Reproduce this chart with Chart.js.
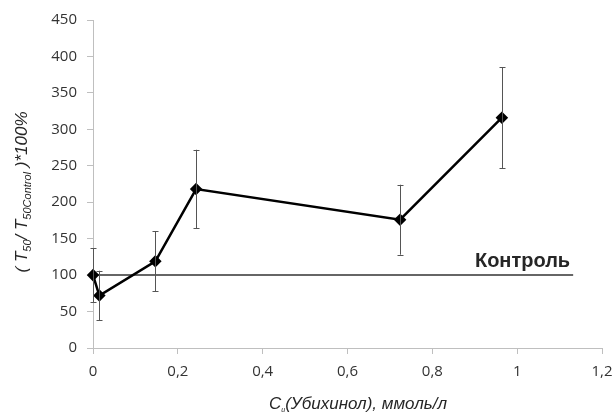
<!DOCTYPE html>
<html>
<head>
<meta charset="utf-8">
<script src="https://cdn.jsdelivr.net/npm/chart.js@4.4.1/dist/chart.umd.min.js"></script>
<style>
  html, body { margin: 0; padding: 0; background: #ffffff; }
  #wrap { width: 616px; height: 412px; }
</style>
</head>
<body>
<div id="wrap"><canvas id="grafico"></canvas></div>
<script>
// concentracion (mmol/l) y T50 relativo al control (%)
var concentraciones = [0, 0.015, 0.147, 0.243, 0.724, 0.964];
var valores = [100, 72, 119, 218, 176, 316];
var errores = [37, 34, 41, 54, 48, 69];

// linea de control
var controlX = [0, 1.132];
var controlY = [100, 100];
var etiquetaControl = "Контроль";

var ticksY = [0, 50, 100, 150, 200, 250, 300, 350, 400, 450];
var ticksX = [0, 0.2, 0.4, 0.6, 0.8, 1, 1.2];

var FUENTE = "'Open Sans', 'DejaVu Sans', sans-serif";
var FUENTE_TIT = "'Liberation Sans', Arial, sans-serif";

function formatoComa(v) {
    return String(Math.round(v * 10) / 10).replace(".", ",");
}

/** Barras de error verticales, con remate corto arriba y abajo. */
var pluginErrores = {
    id: "errores",
    afterDatasetsDraw: function (chart) {
        var ctx = chart.ctx;
        var sx = chart.scales.x, sy = chart.scales.y;
        ctx.save();
        ctx.strokeStyle = "#555555";
        ctx.lineWidth = 1;
        concentraciones.forEach(function (c, i) {
            var px = Math.round(sx.getPixelForValue(c)) + 0.5;
            var top = sy.getPixelForValue(valores[i] + errores[i]);
            var bot = sy.getPixelForValue(valores[i] - errores[i]);
            ctx.beginPath();
            ctx.moveTo(px, top); ctx.lineTo(px, bot);
            ctx.moveTo(px - 3, Math.round(top) + 0.5); ctx.lineTo(px + 3, Math.round(top) + 0.5);
            ctx.moveTo(px - 3, Math.round(bot) + 0.5); ctx.lineTo(px + 3, Math.round(bot) + 0.5);
            ctx.stroke();
        });
        ctx.restore();
    }
};

/** Textos: titulos de ejes con subindices y la etiqueta de control. */
var pluginTextos = {
    id: "textos",
    afterDraw: function (chart) {
        var ctx = chart.ctx;
        var sx = chart.scales.x, sy = chart.scales.y;
        ctx.save();
        ctx.fillStyle = "#262626";

        // etiqueta "Контроль"
        ctx.font = "bold 20px " + FUENTE_TIT;
        ctx.textAlign = "right";
        ctx.textBaseline = "alphabetic";
        ctx.fillText(etiquetaControl, sx.getPixelForValue(controlX[1]) - 3, sy.getPixelForValue(controlY[1]) - 8);

        // titulo eje X
        var segX = [
            { t: "C", f: "italic 17px " + FUENTE_TIT, dy: 0 },
            { t: "u", f: "italic 7px " + FUENTE_TIT, dy: 3 },
            { t: "(Убихинол), ммоль/л", f: "italic 17px " + FUENTE_TIT, dy: 0 }
        ];
        dibujarSegmentos(ctx, segX, 358, 403, 0);

        // titulo eje Y (rotado)
        var segY = [
            { t: "( T", f: "italic 17px " + FUENTE_TIT, dy: 0 },
            { t: "50", f: "italic 11px " + FUENTE_TIT, dy: 4 },
            { t: "/ T", f: "italic 17px " + FUENTE_TIT, dy: 0 },
            { t: "50Control", f: "italic 11px " + FUENTE_TIT, dy: 4 },
            { t: " )*100%", f: "italic 17px " + FUENTE_TIT, dy: 0 }
        ];
        dibujarSegmentos(ctx, segY, 21, 192, -Math.PI / 2);
        ctx.restore();
    }
};

function dibujarSegmentos(ctx, segs, cx, cy, rot) {
    var total = 0;
    segs.forEach(function (s) { ctx.font = s.f; s.w = ctx.measureText(s.t).width; total += s.w; });
    ctx.save();
    ctx.translate(cx, cy);
    ctx.rotate(rot);
    ctx.textAlign = "left";
    ctx.textBaseline = "alphabetic";
    var x = -total / 2;
    segs.forEach(function (s) {
        ctx.font = s.f;
        ctx.fillText(s.t, x, 6 + s.dy);
        x += s.w;
    });
    ctx.restore();
}

document.addEventListener("DOMContentLoaded", function () {
    var ejeGris = "#bfbfbf";
    new Chart(document.getElementById("grafico").getContext("2d"), {
        type: "scatter",
        data: {
            datasets: [{
                label: "Убихинол",
                data: concentraciones.map(function (c, i) { return { x: c, y: valores[i] }; }),
                showLine: true,
                clip: false,
                borderColor: "#000000",
                backgroundColor: "#000000",
                borderWidth: 2.5,
                pointStyle: "rectRot",
                pointRadius: 4.5,
                pointHoverRadius: 4.5,
                order: 1
            }, {
                label: etiquetaControl,
                data: controlX.map(function (c, i) { return { x: c, y: controlY[i] }; }),
                showLine: true,
                borderColor: "#333333",
                borderWidth: 1.5,
                pointRadius: 0,
                order: 2
            }]
        },
        options: {
            responsive: true,
            maintainAspectRatio: false,
            animation: false,
            layout: { padding: { top: 20, right: 14, left: 0, bottom: 0 } },
            plugins: { legend: { display: false }, tooltip: { enabled: false } },
            scales: {
                x: {
                    type: "linear", min: 0, max: 1.2,
                    afterBuildTicks: function (s) { s.ticks = ticksX.map(function (v) { return { value: v }; }); },
                    afterFit: function (s) { s.height = 64; s.paddingLeft = 0; s.paddingRight = 0; },
                    ticks: {
                        color: "#333333", font: { family: FUENTE, size: 15 }, padding: 9, maxRotation: 0,
                        callback: function (v) { return formatoComa(v); }
                    },
                    grid: { drawOnChartArea: false, drawTicks: true, tickLength: 6, color: ejeGris },
                    border: { color: ejeGris }
                },
                y: {
                    min: 0, max: 450,
                    afterBuildTicks: function (s) { s.ticks = ticksY.map(function (v) { return { value: v }; }); },
                    afterFit: function (s) { s.width = 93; s.paddingTop = 0; s.paddingBottom = 0; },
                    ticks: { color: "#333333", font: { family: FUENTE, size: 15 }, padding: 10 },
                    grid: { drawOnChartArea: false, drawTicks: true, tickLength: 6, color: ejeGris },
                    border: { color: ejeGris }
                }
            }
        },
        plugins: [pluginErrores, pluginTextos]
    });
});
</script>
</body>
</html>
